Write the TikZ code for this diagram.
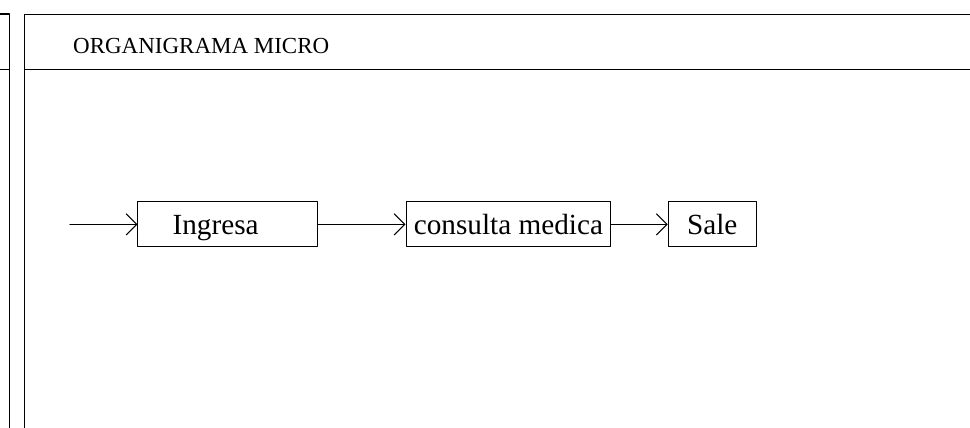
\documentclass[tikz,border=0pt]{standalone}
\usepackage{fontspec}
\setmainfont{Liberation Serif}
\usetikzlibrary{arrows.meta}
\begin{document}
\begin{tikzpicture}[line cap=round,line join=round,
  paso/.style={draw,line width=0.75pt,minimum height=1.19cm,inner sep=0pt,
    text height=18pt,text depth=2.2pt,font=\fontsize{22}{26}\selectfont},
  flecha/.style={line width=0.75pt,-{Straight Barb[length=8pt,width=16pt]}}]
  \useasboundingbox (0,0) rectangle (25.66,11.32);
  % left panel (cut off)
  \draw[line width=0.8pt] (0,10.95) -- (0.24,10.95) -- (0.24,0);
  \draw[line width=0.8pt] (0,9.47) -- (0.24,9.47);
  % main panel with header
  \draw[line width=0.8pt] (25.66,10.93) -- (0.66,10.93) -- (0.66,0);
  \draw[line width=0.8pt] (0.66,9.47) -- (25.66,9.47);
  \node[anchor=west,inner sep=0pt,font=\fontsize{17.3}{21}\selectfont]
    (titulo) at (1.93,10.11) {ORGANIGRAMA MICRO};
  % steps
  \coordinate (inicio) at (1.85,5.385);
  \node[paso,minimum width=4.74cm] (ingresa) at (6.02,5.385) {Ingresa\kern18pt};
  \node[paso,minimum width=5.42cm] (consulta) at (13.45,5.385) {consulta medica};
  \node[paso,minimum width=2.33cm] (sale) at (18.84,5.385) {Sale};
  \draw[flecha] (inicio) -- (ingresa);
  \draw[flecha] (ingresa) -- (consulta);
  \draw[flecha] (consulta) -- (sale);
\end{tikzpicture}
\end{document}
